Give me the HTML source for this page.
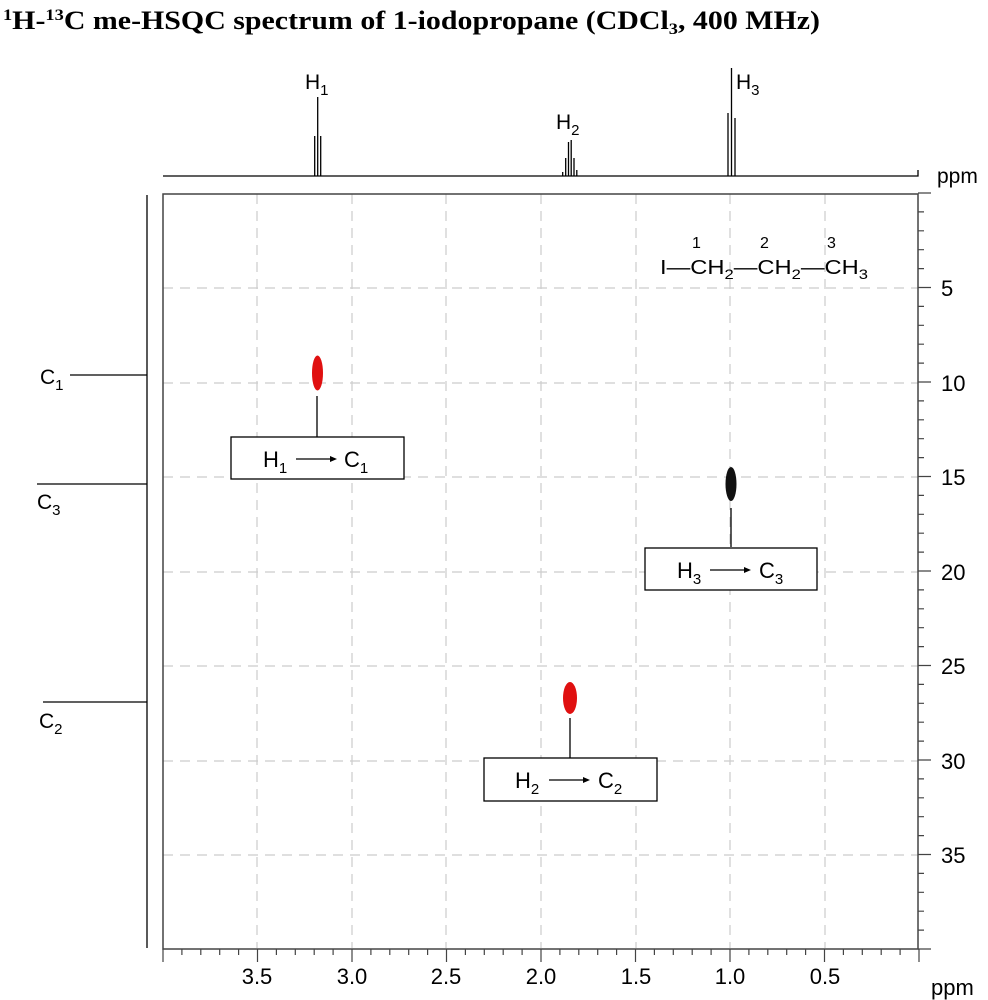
<!DOCTYPE html>
<html><head><style>body{margin:0;background:#fff}svg{display:block}</style></head><body>
<svg width="988" height="1000" xmlns="http://www.w3.org/2000/svg" font-family="Liberation Sans, sans-serif">
<text x="3" y="29" font-family="Liberation Serif, serif" font-weight="bold" font-size="26" textLength="817" lengthAdjust="spacingAndGlyphs">
<tspan font-size="16" dy="-9">1</tspan><tspan dy="9">H-</tspan><tspan font-size="16" dy="-9">13</tspan><tspan dy="9">C me-HSQC spectrum of 1-iodopropane (CDCl</tspan><tspan font-size="16" dy="5">3</tspan><tspan dy="-5">, 400 MHz)</tspan></text>

<!-- top 1D -->
<g stroke="#000" stroke-width="1.3" fill="none">
<path d="M163 176 H918 V170"/>
<path d="M314.7 176V136 M317.7 176V97 M320.7 176V136"/>
<path d="M562.7 176V172 M565.7 176V158 M568.5 176V142 M571.2 176V140 M574 176V158 M576.8 176V170"/>
<path d="M728 176V113 M731.5 176V68 M735 176V118"/>
</g>
<g font-size="21">
<text x="305" y="89">H<tspan font-size="15" dy="6">1</tspan></text>
<text x="556" y="129">H<tspan font-size="15" dy="6">2</tspan></text>
<text x="736" y="89">H<tspan font-size="15" dy="6">3</tspan></text>
<text x="937" y="183">ppm</text>
</g>

<!-- left projection -->
<g stroke="#000" stroke-width="1.3" fill="none">
<path d="M147 195 V948"/>
<path d="M70 375 H147 M37 484 H147 M43 702 H147"/>
</g>
<g font-size="21">
<text x="40" y="384">C<tspan font-size="15" dy="6">1</tspan></text>
<text x="37" y="509">C<tspan font-size="15" dy="6">3</tspan></text>
<text x="39" y="728">C<tspan font-size="15" dy="6">2</tspan></text>
</g>

<!-- grid -->
<g stroke="#ccc" stroke-width="1.2" stroke-dasharray="10,7">
<path d="M257 194V948 M352 194V948 M446 194V948 M541 194V948 M636 194V948 M730 194V948 M825 194V948"/>
<path d="M163 288H918 M163 383H918 M163 477H918 M163 572H918 M163 666H918 M163 761H918 M163 855H918"/>
</g>
<rect x="163" y="194" width="755" height="755" fill="none" stroke="#444" stroke-width="1.5"/>

<g stroke="#444" stroke-width="1.2" id="ticks"></g>
<g font-size="22" text-anchor="middle">
<text x="257" y="984">3.5</text><text x="352" y="984">3.0</text><text x="446" y="984">2.5</text><text x="541" y="984">2.0</text><text x="636" y="984">1.5</text><text x="730" y="984">1.0</text><text x="825" y="984">0.5</text>
</g>
<text x="931" y="995" font-size="22">ppm</text>
<g font-size="22">
<text x="941" y="296">5</text><text x="941" y="391">10</text><text x="941" y="485">15</text><text x="941" y="580">20</text><text x="941" y="674">25</text><text x="941" y="769">30</text><text x="941" y="863">35</text>
</g>

<!-- structure -->
<g font-size="20">
<text x="660" y="274" textLength="208" lengthAdjust="spacingAndGlyphs">I—CH<tspan font-size="14" dy="5">2</tspan><tspan dy="-5">—CH</tspan><tspan font-size="14" dy="5">2</tspan><tspan dy="-5">—CH</tspan><tspan font-size="14" dy="5">3</tspan></text>
<text x="692" y="248" font-size="16">1</text><text x="760" y="248" font-size="16">2</text><text x="827" y="248" font-size="16">3</text>
</g>

<!-- cross peaks -->
<ellipse cx="317.5" cy="373" rx="5.5" ry="17.5" fill="#e01010"/>
<ellipse cx="731" cy="484" rx="5.5" ry="17" fill="#111"/>
<ellipse cx="570" cy="698" rx="7" ry="16" fill="#e01010"/>

<g stroke="#000" stroke-width="1.3" fill="#fff">
<path d="M317 396V437 M731 508V547 M570 718V758" fill="none"/>
<rect x="231" y="437" width="173" height="42"/>
<rect x="645" y="548" width="172" height="42"/>
<rect x="484" y="758" width="173" height="43"/>
</g>
<g font-size="22">
<text x="263" y="467">H<tspan font-size="15" dy="6">1</tspan></text>
<text x="344" y="467">C<tspan font-size="15" dy="6">1</tspan></text>
<text x="677" y="578">H<tspan font-size="15" dy="6">3</tspan></text>
<text x="759" y="578">C<tspan font-size="15" dy="6">3</tspan></text>
<text x="515" y="788">H<tspan font-size="15" dy="6">2</tspan></text>
<text x="598" y="788">C<tspan font-size="15" dy="6">2</tspan></text>
</g>
<g stroke="#000" stroke-width="1.3">
<path d="M296 459H333 M710 570H747 M549 780H586"/>
</g>
<g fill="#000">
<path d="M337 459l-7-3v6z M751 570l-7-3v6z M590 780l-7-3v6z"/>
</g>
<script>
var g=document.getElementById('ticks'),d='';
for(var i=0;i<=40;i++){var x=919-i*18.9;var L=(i%5==0)?13:6;d+='M'+x.toFixed(1)+' 949V'+(949+L);}
for(var j=0;j<=40;j++){var y=193+j*18.9;if(y>949)break;var L=(j%5==0)?13:6;d+='M918 '+y.toFixed(1)+'H'+(918+L);}
var p=document.createElementNS('http://www.w3.org/2000/svg','path');p.setAttribute('d',d);g.appendChild(p);
</script>
</svg>
</body></html>
